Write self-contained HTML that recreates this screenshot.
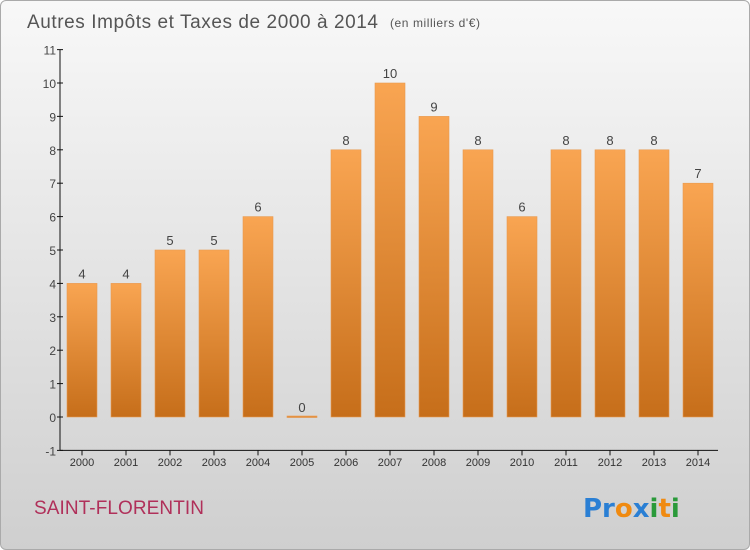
<!DOCTYPE html>
<html><head><meta charset="utf-8"><style>
body{margin:0}
#c{width:748px;height:548px;border:1px solid #aaa;border-radius:6px;background:linear-gradient(#f8f8f8,#cfcfcf);position:relative;overflow:hidden;font-family:"Liberation Sans","DejaVu Sans",sans-serif}
</style></head><body>
<div id="c">
<svg id="s" width="750" height="550" style="position:absolute;left:-1px;top:-1px">
<defs><linearGradient id="g" x1="0" y1="0" x2="0" y2="1"><stop offset="0" stop-color="#f9a552"/><stop offset="1" stop-color="#c66e1a"/></linearGradient></defs>
<text x="27" y="28" font-size="19" fill="#555" textLength="351">Autres Impôts et Taxes de 2000 à 2014</text>
<text x="390" y="27" font-size="12" fill="#555" textLength="90">(en milliers d'€)</text>
<text x="34" y="514" font-size="19" fill="#b0305a" textLength="170">SAINT-FLORENTIN</text>
<g font-size="26" font-weight="bold" font-family="DejaVu Sans,sans-serif">
<text x="583" y="517"><tspan fill="#2a7fd4">Pr</tspan><tspan fill="#f08a10">o</tspan><tspan fill="#2a7fd4">x</tspan><tspan fill="#2a9a3a">i</tspan><tspan fill="#f08a10">t</tspan><tspan fill="#2a9a3a">i</tspan></text></g>
<g id="plot"></g>
</svg></div>
<script>
const years=["2000","2001","2002","2003","2004","2005","2006","2007","2008","2009","2010","2011","2012","2013","2014"];
const values=[4,4,5,5,6,0,8,10,9,8,6,8,8,8,7];
const yTicks=[-1,0,1,2,3,4,5,6,7,8,9,10,11];
const NS="http://www.w3.org/2000/svg";
const g=document.getElementById('plot');
const y=v=>417-v*33.4;
const x=i=>82+i*44;
function mk(t,a,txt){const e=document.createElementNS(NS,t);for(const k in a)e.setAttribute(k,a[k]);if(txt!=null)e.textContent=txt;g.appendChild(e);return e;}
let e=mk('line',{x1:60,y1:y(11),x2:60,y2:y(-1),stroke:'#111','stroke-width':1});


e=mk('line',{x1:60,y1:y(-1),x2:718,y2:y(-1),stroke:'#111','stroke-width':1});


yTicks.forEach(t=>{
 mk('line',{x1:57,y1:y(t),x2:63,y2:y(t),stroke:'#111'});
 e=mk('text',{x:56,y:y(t)+5,'font-size':12,fill:'#444','text-anchor':'end'},t);
 
 
});
years.forEach((yr,i)=>{
 mk('line',{x1:x(i),y1:y(-1),x2:x(i),y2:y(-1)+5,stroke:'#111'});
 e=mk('text',{x:x(i),y:466,'font-size':11,fill:'#333','text-anchor':'middle'},yr);
 
 
 const v=values[i];const top=y(v);const h=Math.max(y(0)-top,1.5);
 e=mk('rect',{x:x(i)-15,y:v===0?y(0)-1:top,width:30,height:h,fill:'url(#g)',stroke:'#e89a50','stroke-width':0.6});
 
 
 e=mk('text',{x:x(i),y:(v===0?y(0):top)-5,'font-size':13,fill:'#444','text-anchor':'middle'},v);
 
 
});
</script>
</body></html>
